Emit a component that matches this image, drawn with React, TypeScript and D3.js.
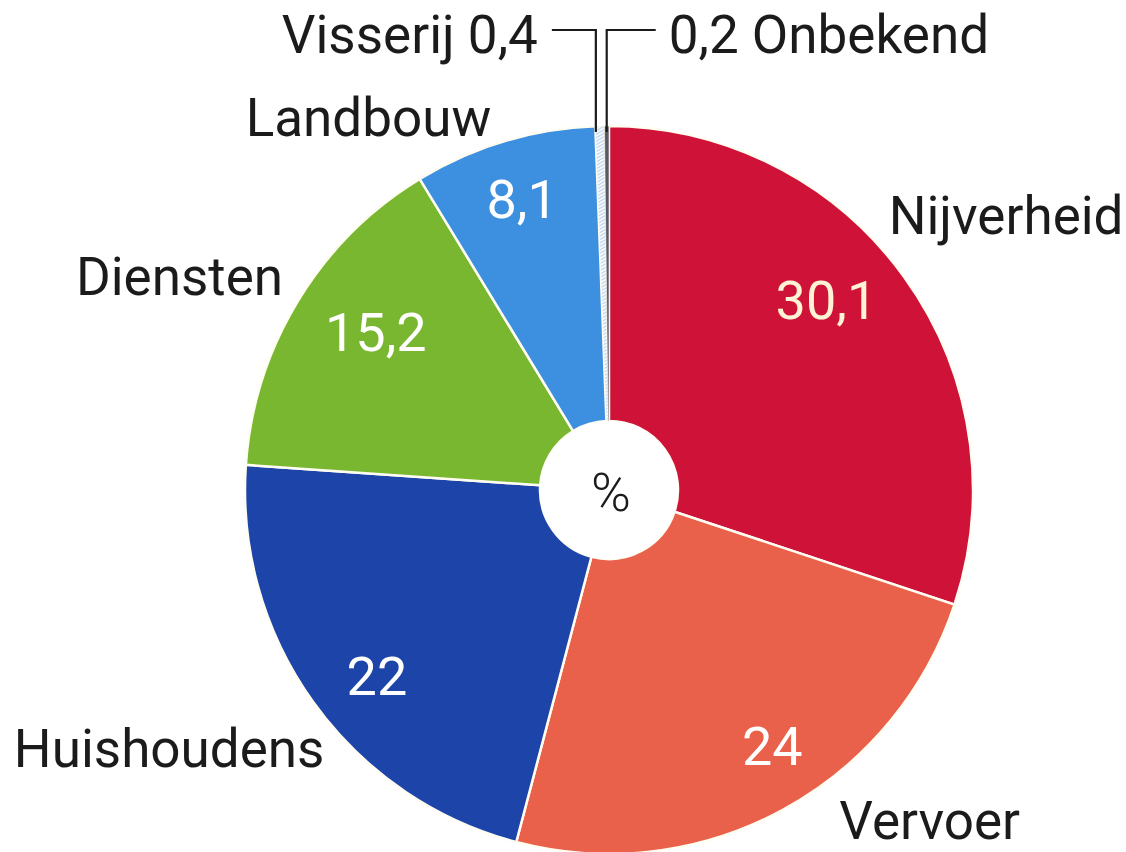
import React from 'react';
import * as d3 from 'd3';

// sectors, clockwise from 12 o'clock
const sectors = ['Nijverheid', 'Vervoer', 'Huishoudens', 'Diensten', 'Landbouw', 'Visserij', 'Onbekend'];
const shares = [30.1, 24, 22, 15.2, 8.1, 0.4, 0.2];
const shareLabels = ['30,1', '24', '22', '15,2', '8,1', '0,4', '0,2'];
const colors = ['#cf1237', '#e9604b', '#1d45a9', '#79b731', '#3d8fe0', 'url(#hatch)', '#555a63'];

const W = 1126;
const H = 852;
const cx = 609;
const cy = 490;
const R = 364;
const hole = 69;
const font = 'Roboto, "Noto Sans", sans-serif';

// hand placed labels (polar: degrees, radius)
const namePos: Record<string, [number, number]> = {
  Nijverheid: [55.3, 483],
  Vervoer: [135.8, 460],
  Huishoudens: [239.6, 510],
  Diensten: [296.5, 480],
  Landbouw: [327.2, 444],
};
const valuePos: Record<string, [number, number]> = {
  Nijverheid: [48.8, 289],
  Vervoer: [147.4, 303],
  Huishoudens: [231.4, 297],
  Diensten: [304.2, 282],
  Landbouw: [343.4, 304],
};

const App = () => {
  const data = sectors.map((s, i) => ({ name: s, value: shares[i], label: shareLabels[i], color: colors[i] }));

  const pie = d3.pie<any>().value(d => d.value).sort(null);
  const arcs = pie(data);
  const arc = d3.arc<any>().innerRadius(hole).outerRadius(R);
  const rad = (deg: number) => (deg * Math.PI) / 180;

  const small = arcs.filter(a => a.data.value < 1);

  return (
    <svg width={W} height={H} style={{ position: 'absolute', left: 0, top: 0, background: '#fff' }}>
      <defs>
        <pattern id="hatch" width="3" height="3" patternUnits="userSpaceOnUse" patternTransform="rotate(60)">
          <rect width="3" height="3" fill="#f4f8fd" />
          <line x1="0" y1="0" x2="0" y2="3" stroke="#7fa9d8" strokeWidth="1" />
        </pattern>
      </defs>
      <g transform={`translate(${cx},${cy})`}>
        {arcs.map((a, i) => (
          <path key={i} d={arc(a) as string} fill={a.data.color} stroke="#fffdf2" strokeWidth={a.data.value < 1 ? 0.6 : 2.5} />
        ))}
        {arcs.filter(a => valuePos[a.data.name]).map((a, i) => {
          const [deg, r] = valuePos[a.data.name];
          const [x, y] = d3.pointRadial(rad(deg), r);
          return (
            <text key={i} x={x} y={y} dy="0.36em" textAnchor="middle" fontFamily={font} fontSize={54}
              fill={a.data.name === 'Nijverheid' ? '#fff3d6' : '#fff'}>
              {a.data.label}
            </text>
          );
        })}
        {arcs.filter(a => namePos[a.data.name]).map((a, i) => {
          const [deg, r] = namePos[a.data.name];
          const [x, y] = d3.pointRadial(rad(deg), r);
          return (
            <text key={i} x={x} y={y} dy="0.36em" textAnchor="middle" fontFamily={font} fontSize={53} fill="#1b1b1b">
              {a.data.name}
            </text>
          );
        })}
        {small.map((a, i) => {
          const mid = (a.startAngle + a.endAngle) / 2;
          const [x] = d3.pointRadial(mid, R);
          const left = i === 0;
          const xl = left ? x - 4 : x;
          const top = 30 - cy;
          const end = left ? xl - 44 : xl + 49;
          return (
            <g key={i}>
              <path d={`M${xl},${-R + 6}V${top}H${end}`} fill="none" stroke="#1b1b1b" strokeWidth={2.2} />
              <text x={left ? end - 14 : end + 13} y={top + 4} dy="0.36em" textAnchor={left ? 'end' : 'start'}
                fontFamily={font} fontSize={53} fill="#1b1b1b">
                {left ? `${a.data.name} ${a.data.label}` : `${a.data.label} ${a.data.name}`}
              </text>
            </g>
          );
        })}
        <circle r={hole} fill="#fff" />
        <text x={2} y={2} dy="0.36em" textAnchor="middle" fontFamily={font} fontSize={54} fontWeight={300} fill="#1b1b1b">%</text>
      </g>
    </svg>
  );
};

export default App;
